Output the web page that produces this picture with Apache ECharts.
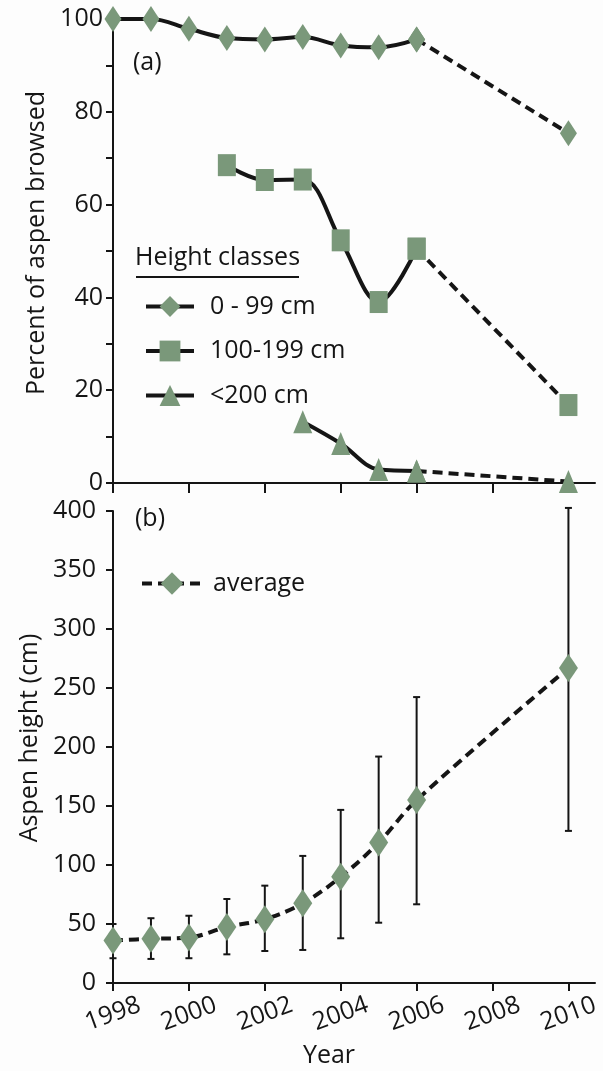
<!DOCTYPE html>
<html>
<head>
<meta charset="utf-8">
<script src="https://cdn.jsdelivr.net/npm/echarts@6/dist/echarts.min.js"></script>
<style>
  html, body { margin: 0; padding: 0; background: #fdfdfd; }
  #chart { width: 603px; height: 1071px; }
</style>
</head>
<body>
<div id="chart"></div>
<script>
    // years surveyed (2007-2009 missing)
    var years = [1998, 1999, 2000, 2001, 2002, 2003, 2004, 2005, 2006, 2010];
    // (a) percent of aspen browsed per height class
    var pct0_99 = [100, 100, 97.9, 95.9, 95.6, 96.1, 94.3, 93.9, 95.6, 75.4];
    var pct100_199 = [null, null, null, 68.5, 65.3, 65.4, 52.3, 39.0, 50.5, 16.8];
    var pct200 = [null, null, null, null, null, 13.2, 8.5, 2.9, 2.6, 0.3];
    // (b) average aspen height with error bar ends
    var heightAvg = [36, 37.5, 38.5, 47.5, 54, 67.5, 90, 119, 155, 267];
    var heightLow = [21, 20.4, 21, 24.3, 27.1, 28, 37.9, 51.1, 66.7, 128.9];
    var heightHigh = [50, 54.9, 57, 71.2, 82.5, 107.7, 146.7, 191.9, 242.3, 402.6];
    var yearTicks = [1998, 2000, 2002, 2004, 2006, 2008, 2010];

    var green = '#7a987a';
    var ink = '#151515';
    var font = 'Open Sans';
    var fs = 25;

    function pairs(vals, from, to) {
        var out = [];
        for (var i = 0; i < years.length; i++) {
            if (vals[i] == null) continue;
            if (years[i] < from || years[i] > to) continue;
            out.push([years[i], vals[i]]);
        }
        return out;
    }

    var dom = document.getElementById('chart');
    var myChart = echarts.init(dom, null, { renderer: 'canvas' });

    function xAxisCfg(idx, withLabels) {
        return {
            type: 'value',
            gridIndex: idx,
            min: 1998,
            max: 2010.7,
            name: withLabels ? 'Year' : '',
            nameLocation: 'middle',
            nameGap: 60,
            nameTextStyle: { fontFamily: font, fontSize: fs, color: ink, padding: [0, 50, 0, 0] },
            axisLine: { show: true, onZero: false, lineStyle: { color: ink, width: 2 } },
            axisTick: { show: true, length: withLabels ? 8 : 10, customValues: yearTicks, lineStyle: { color: ink, width: 2 } },
            axisLabel: {
                show: withLabels,
                customValues: yearTicks,
                rotate: 20,
                align: 'center',
                verticalAlign: 'middle',
                margin: 31,
                fontFamily: font,
                fontSize: fs,
                color: ink,
                formatter: function (v) { return String(v); }
            },
            splitLine: { show: false }
        };
    }

    function errorBars(params, api) {
        var x = api.value(0);
        var lo = api.coord([x, api.value(1)]);
        var hi = api.coord([x, api.value(2)]);
        var cap = 3.5;
        var st = { stroke: ink, lineWidth: 2 };
        return {
            type: 'group',
            children: [
                { type: 'line', shape: { x1: lo[0], y1: lo[1], x2: hi[0], y2: hi[1] }, style: st },
                { type: 'line', shape: { x1: lo[0] - cap, y1: lo[1], x2: lo[0] + cap, y2: lo[1] }, style: st },
                { type: 'line', shape: { x1: hi[0] - cap, y1: hi[1], x2: hi[0] + cap, y2: hi[1] }, style: st }
            ]
        };
    }

    var errData = years.map(function (y, i) { return [y, heightLow[i], heightHigh[i]]; });

    var solid = { color: ink, width: 4 };
    var dashed = { color: ink, width: 4, type: [10, 6] };

    var option = {
        backgroundColor: '#fdfdfd',
        animation: false,
        textStyle: { fontFamily: font },
        grid: [
            { left: 113, top: 19, width: 482, height: 464 },
            { left: 113, top: 511, width: 482, height: 472 }
        ],
        xAxis: [xAxisCfg(0, false), xAxisCfg(1, true)],
        yAxis: [{
            type: 'value',
            gridIndex: 0,
            min: 0,
            max: 100,
            interval: 10,
            name: 'Percent of aspen browsed',
            nameLocation: 'middle',
            nameGap: 62,
            nameTextStyle: { fontFamily: font, fontSize: fs, color: ink, padding: [0, 0, 0, 16] },
            axisLine: { show: true, lineStyle: { color: ink, width: 2 } },
            axisTick: { show: true, length: 7, lineStyle: { color: ink, width: 2 } },
            axisLabel: {
                margin: 10, fontFamily: font, fontSize: fs, color: ink,
                formatter: function (v) { return v % 20 === 0 ? String(v) : ''; }
            },
            splitLine: { show: false }
        }, {
            type: 'value',
            gridIndex: 1,
            min: 0,
            max: 400,
            interval: 50,
            name: 'Aspen height (cm)',
            nameLocation: 'middle',
            nameGap: 62,
            nameTextStyle: { fontFamily: font, fontSize: fs, color: ink, padding: [0, 0, 0, 18] },
            axisLine: { show: true, lineStyle: { color: ink, width: 2 } },
            axisTick: { show: true, length: 7, lineStyle: { color: ink, width: 2 } },
            axisLabel: { margin: 17, fontFamily: font, fontSize: fs, color: ink },
            splitLine: { show: false }
        }],
        legend: [{
            data: ['0 - 99 cm', '100-199 cm', '<200 cm'],
            orient: 'vertical',
            left: 139,
            top: 289,
            itemWidth: 48,
            itemHeight: 26,
            itemGap: 19.5,
            selectedMode: false,
            lineStyle: { width: 4 },
            textStyle: { fontFamily: font, fontSize: fs, color: ink, padding: [0, 0, 0, 11] }
        }, {
            data: ['average'],
            orient: 'vertical',
            left: 135,
            top: 566,
            itemWidth: 60,
            itemHeight: 28,
            selectedMode: false,
            lineStyle: { width: 4 },
            textStyle: { fontFamily: font, fontSize: fs, color: ink, padding: [0, 0, 0, 6] }
        }],
        graphic: [
            { type: 'text', left: 133, top: 50, style: { text: '(a)', fontFamily: font, fontSize: fs, fill: ink } },
            { type: 'text', left: 135, top: 506, style: { text: '(b)', fontFamily: font, fontSize: fs, fill: ink } },
            { type: 'text', left: 135, top: 245, style: { text: 'Height classes', fontFamily: font, fontSize: fs, fill: ink } },
            { type: 'line', shape: { x1: 136, y1: 277, x2: 299, y2: 277 }, style: { stroke: ink, lineWidth: 2 } }
        ],
        series: [
            // (a) solid parts 1998-2006
            {
                name: '0 - 99 cm', type: 'line', xAxisIndex: 0, yAxisIndex: 0,
                data: pairs(pct0_99, 1998, 2006), smooth: 0.35,
                symbol: 'diamond', symbolSize: [17, 26], itemStyle: { color: green },
                lineStyle: solid, z: 3
            },
            {
                name: '100-199 cm', type: 'line', xAxisIndex: 0, yAxisIndex: 0,
                data: pairs(pct100_199, 1998, 2006), smooth: 0.35,
                symbol: 'rect', symbolSize: [18, 22], itemStyle: { color: green },
                lineStyle: solid, z: 3
            },
            {
                name: '<200 cm', type: 'line', xAxisIndex: 0, yAxisIndex: 0,
                data: pairs(pct200, 1998, 2006), smooth: 0.35,
                symbol: 'triangle', symbolSize: [19, 23], itemStyle: { color: green },
                lineStyle: solid, z: 3
            },
            // (a) dashed parts 2006-2010
            {
                name: '0 - 99 cm', type: 'line', xAxisIndex: 0, yAxisIndex: 0,
                data: pairs(pct0_99, 2006, 2010),
                symbol: 'diamond', symbolSize: [17, 26], itemStyle: { color: green },
                lineStyle: dashed, z: 4
            },
            {
                name: '100-199 cm', type: 'line', xAxisIndex: 0, yAxisIndex: 0,
                data: pairs(pct100_199, 2006, 2010),
                symbol: 'rect', symbolSize: [18, 22], itemStyle: { color: green },
                lineStyle: dashed, z: 4
            },
            {
                name: '<200 cm', type: 'line', xAxisIndex: 0, yAxisIndex: 0,
                data: pairs(pct200, 2006, 2010), clip: false,
                symbol: 'triangle', symbolSize: [19, 23], itemStyle: { color: green },
                lineStyle: dashed, z: 4
            },
            // (b) error bars + average
            {
                type: 'custom', xAxisIndex: 1, yAxisIndex: 1,
                renderItem: errorBars, data: errData,
                encode: { x: 0, y: [1, 2] }, clip: false, z: 2
            },
            {
                name: 'average', type: 'line', xAxisIndex: 1, yAxisIndex: 1,
                data: pairs(heightAvg, 1998, 2010), smooth: 0.35,
                symbol: 'diamond', symbolSize: [19, 28], itemStyle: { color: green },
                lineStyle: dashed, z: 3
            }
        ]
    };

    myChart.setOption(option);
    window.addEventListener('resize', myChart.resize);
</script>
</body>
</html>
